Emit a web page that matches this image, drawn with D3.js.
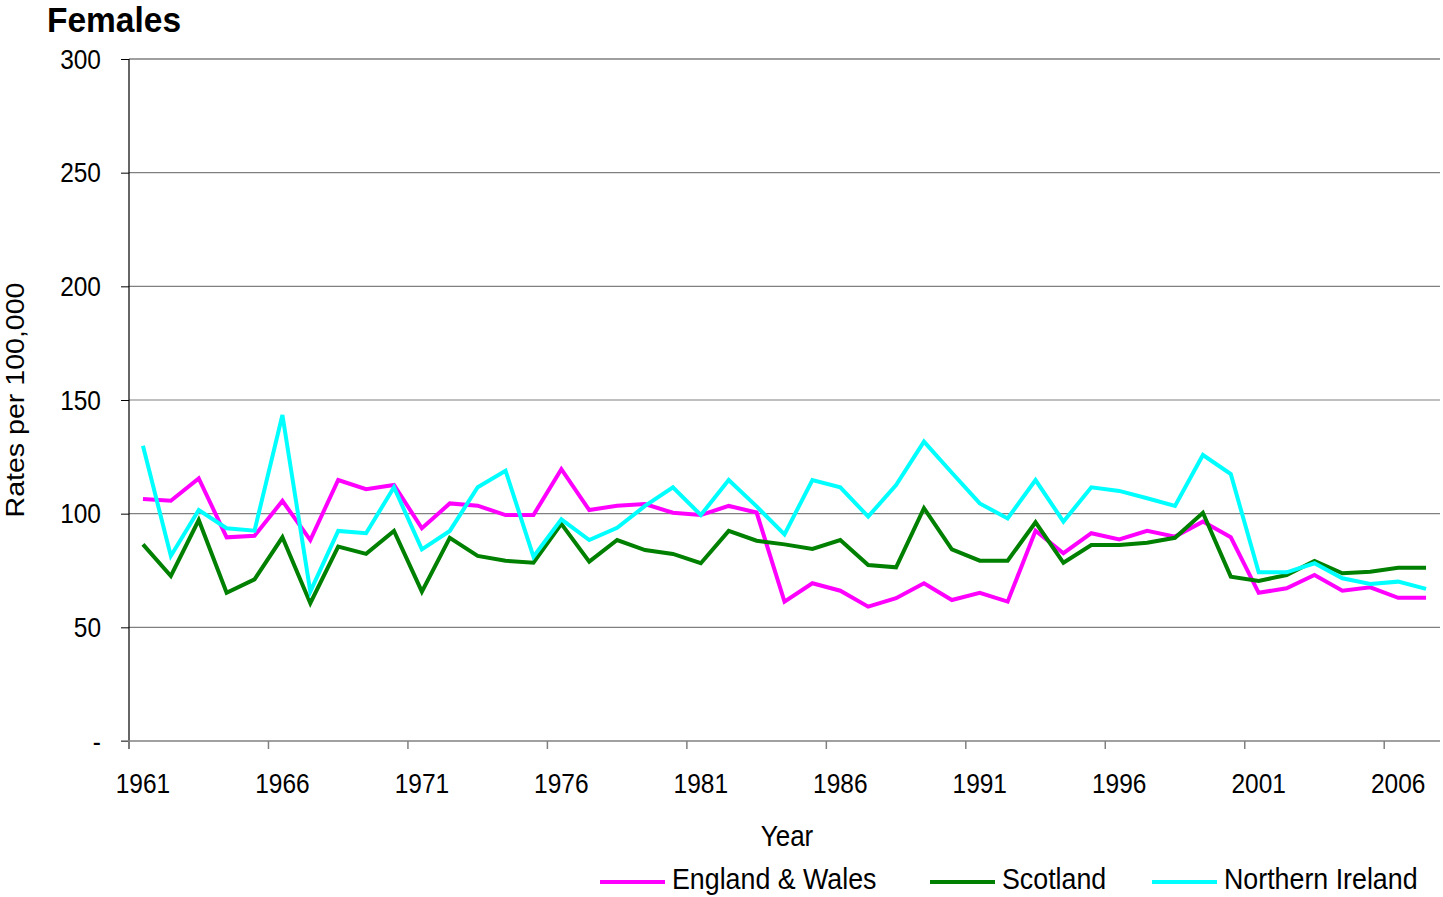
<!DOCTYPE html>
<html>
<head>
<meta charset="utf-8">
<script src="https://cdn.jsdelivr.net/npm/d3@7"></script>
<style>
  body { margin: 0; background: #fff; }
  text { font-family: "Liberation Sans", Arial, sans-serif; fill: #000; }
</style>
</head>
<body>
<div id="chart"></div>
<script>
var svgWidth = 1443;
var svgHeight = 897;

// the original text looks a bit stretched vertically
var stretch = 1.12;

// data, 1961 - 2007
var years = d3.range(1961, 2008);
var englandWales = [106.4, 105.7, 115.5, 89.6, 90.3, 105.6, 88.4, 114.8, 110.8, 112.6,
  93.6, 104.5, 103.5, 99.4, 99.4, 119.6, 101.6, 103.5, 104.2, 100.4,
  99.4, 103.4, 100.5, 61.3, 69.4, 66.1, 59.1, 62.8, 69.4, 62.0,
  65.2, 61.3, 92.5, 82.6, 91.4, 88.7, 92.5, 89.9, 96.5, 89.6,
  65.2, 67.2, 73.0, 66.1, 67.6, 63.0, 63.0];
var scotland = [86.5, 72.6, 97.2, 65.2, 71.1, 89.6, 60.6, 85.5, 82.3, 92.4,
  65.7, 89.4, 81.4, 79.3, 78.4, 95.5, 78.9, 88.4, 84.0, 82.3,
  78.2, 92.4, 88.1, 86.5, 84.5, 88.4, 77.4, 76.4, 102.4, 84.3,
  79.3, 79.3, 96.2, 78.4, 86.2, 86.2, 87.2, 89.4, 100.4, 72.3,
  70.4, 73.0, 79.2, 73.8, 74.5, 76.2, 76.2];
var northernIreland = [129.9, 81.4, 101.6, 93.6, 92.5, 143.4, 65.7, 92.4, 91.4, 111.6,
  84.3, 92.4, 111.6, 118.9, 81.1, 97.5, 88.4, 93.8, 103.4, 111.6,
  99.4, 114.8, 103.2, 90.9, 114.8, 111.6, 98.7, 112.6, 131.7, 118.0,
  104.5, 97.9, 114.8, 96.5, 111.6, 110.0, 106.8, 103.4, 125.8, 117.4,
  74.2, 74.2, 78.2, 71.6, 69.1, 70.1, 66.9];
var yTicks = [0, 50, 100, 150, 200, 250, 300];
var seriesNames = ["England & Wales", "Scotland", "Northern Ireland"];
var seriesColors = ["#ff00ff", "#008000", "#00ffff"];

var margin = { top: 59, right: 3, bottom: 156, left: 129 };
var width = svgWidth - margin.left - margin.right;
var height = svgHeight - margin.top - margin.bottom;

var svg = d3.select("#chart")
  .append("svg")
  .attr("width", svgWidth)
  .attr("height", svgHeight);

var chartGroup = svg.append("g")
  .attr("transform", `translate(${margin.left}, ${margin.top})`);

var xScale = d3.scaleBand()
  .domain(years)
  .range([0, width])
  .padding(0);

var yScale = d3.scaleLinear()
  .domain([0, 300])
  .range([height, 0]);

// horizontal gridlines
chartGroup.append("g")
  .selectAll("line")
  .data(yTicks.filter(d => d > 0))
  .join("line")
  .attr("x1", 0)
  .attr("x2", width)
  .attr("y1", d => yScale(d))
  .attr("y2", d => yScale(d))
  .attr("stroke", d => d === 300 ? "#404040" : "#808080")
  .attr("stroke-width", 1.2);

// y axis
var leftAxis = d3.axisLeft(yScale)
  .tickValues(yTicks)
  .tickSize(8)
  .tickPadding(0)
  .tickFormat(d => d === 0 ? "-" : d);

var yAxis = chartGroup.append("g").call(leftAxis);
yAxis.select(".domain").remove();
yAxis.selectAll(".tick line").attr("stroke", "#000");
yAxis.selectAll("text")
  .attr("x", null)
  .attr("dy", null)
  .attr("transform", `translate(-28, 9) scale(1, ${stretch})`)
  .style("font-size", "24.5px");
chartGroup.append("line")
  .attr("x1", 0).attr("x2", 0)
  .attr("y1", 0).attr("y2", height + 8)
  .attr("stroke", "#000")
  .attr("stroke-width", 1.2);

// x axis: ticks at category edges every 5 years, labels at centres
var xAxis = chartGroup.append("g")
  .attr("transform", `translate(0, ${height})`);

xAxis.append("line")
  .attr("x1", -8)
  .attr("x2", width)
  .attr("stroke", "#808080")
  .attr("stroke-width", 1.5);

var labelYears = years.filter((d, i) => i % 5 === 0);

xAxis.selectAll(".xtick")
  .data(labelYears)
  .join("line")
  .attr("class", "xtick")
  .attr("x1", d => xScale(d))
  .attr("x2", d => xScale(d))
  .attr("y1", 0)
  .attr("y2", 8)
  .attr("stroke", "#808080")
  .attr("stroke-width", 1.5);

xAxis.selectAll(".xlabel")
  .data(labelYears)
  .join("text")
  .attr("class", "xlabel")
  .attr("transform", d => `translate(${xScale(d) + xScale.bandwidth() / 2}, 52) scale(1, ${stretch})`)
  .attr("text-anchor", "middle")
  .style("font-size", "24.5px")
  .text(d => d);

// lines
var allSeries = [englandWales, scotland, northernIreland];

var line = d3.line()
  .x((d, i) => xScale(years[i]) + xScale.bandwidth() / 2)
  .y(d => yScale(d));

chartGroup.append("g")
  .selectAll("path")
  .data(allSeries)
  .join("path")
  .attr("d", d => line(d))
  .attr("fill", "none")
  .attr("stroke", (d, i) => seriesColors[i])
  .attr("stroke-width", 4)
  .attr("stroke-linejoin", "miter");

// title
svg.append("text")
  .attr("transform", "translate(47, 32) scale(1, 1.06)")
  .style("font-size", "33.5px")
  .style("font-weight", "bold")
  .text("Females");

// axis titles
svg.append("text")
  .attr("transform", `translate(24, 400) rotate(-90) scale(${stretch}, 1)`)
  .attr("text-anchor", "middle")
  .style("font-size", "25.5px")
  .text("Rates per 100,000");

svg.append("text")
  .attr("transform", `translate(787, 846) scale(1, ${stretch})`)
  .attr("text-anchor", "middle")
  .style("font-size", "26px")
  .text("Year");

// legend
var legendX = [600, 930, 1152];
var legend = svg.append("g");
legend.selectAll("line")
  .data(seriesNames)
  .join("line")
  .attr("x1", (d, i) => legendX[i])
  .attr("x2", (d, i) => legendX[i] + 65)
  .attr("y1", 882)
  .attr("y2", 882)
  .attr("stroke", (d, i) => seriesColors[i])
  .attr("stroke-width", 4);

legend.selectAll("text")
  .data(seriesNames)
  .join("text")
  .attr("transform", (d, i) => `translate(${legendX[i] + 72}, 889) scale(1, 1.1)`)
  .style("font-size", "26.8px")
  .text(d => d);
</script>
</body>
</html>
